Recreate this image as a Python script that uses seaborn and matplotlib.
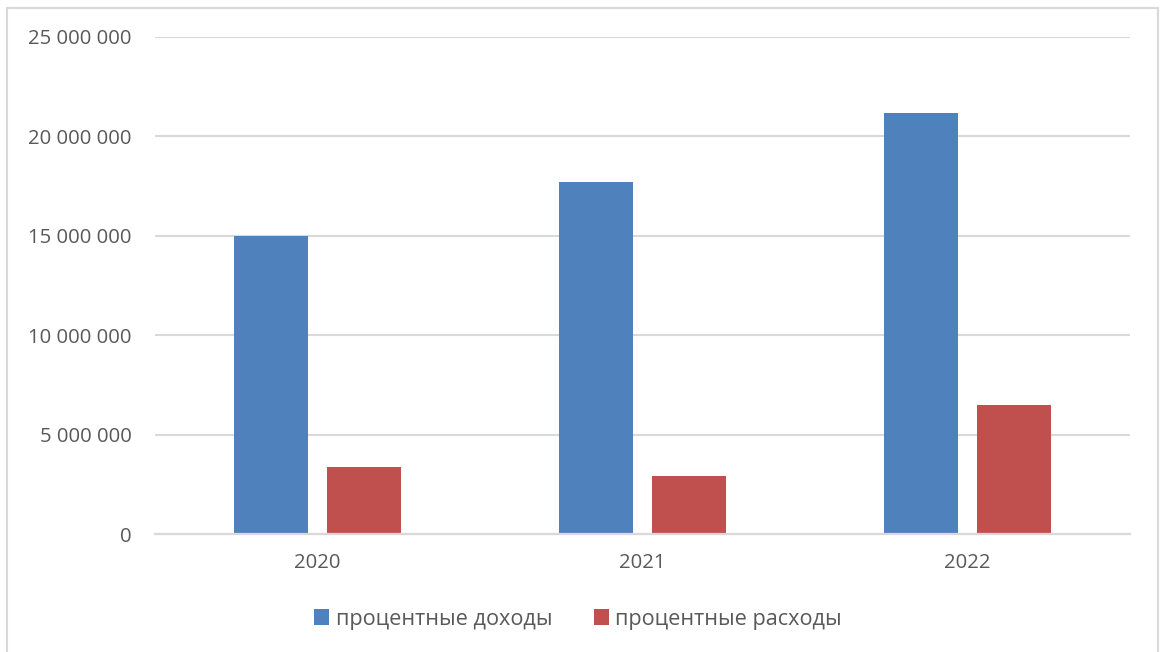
import pandas as pd
import seaborn as sns
import matplotlib.pyplot as plt
from matplotlib.patches import Rectangle

# data
years = ["2020", "2021", "2022"]
income = [15000000, 17700000, 21200000]
expense = [3370000, 2920000, 6480000]
series_names = ["процентные доходы", "процентные расходы"]
colors = ["#4F81BD", "#C0504D"]

df = pd.DataFrame({
    "year": years * 2,
    "value": income + expense,
    "series": [series_names[0]] * 3 + [series_names[1]] * 3,
})

sns.set_theme(style="white")
plt.rcParams["font.family"] = ["Open Sans", "DejaVu Sans"]
text_color = "#595959"
grid_color = "#D9D9D9"

fig = plt.figure(figsize=(11.61, 6.52), dpi=100)
ax = fig.add_axes([155 / 1161, 1 - 534 / 652, 975 / 1161, 497 / 652])

sns.barplot(
    data=df, x="year", y="value", hue="series",
    palette=colors, width=0.572, gap=0.21, ax=ax,
    saturation=1, edgecolor="none",
)

ax.set_xlim(-0.5, 2.5)
ax.set_ylim(0, 25000000)
ax.set_yticks(range(0, 25000001, 5000000))
ax.yaxis.set_major_formatter(plt.FuncFormatter(
    lambda v, loc: "{:,}".format(int(v)).replace(",", " ")))
ax.set_xlabel("")
ax.set_ylabel("")

ax.grid(axis="y", color=grid_color, linewidth=1.5)
ax.set_axisbelow(True)
for side in ["left", "right", "top"]:
    ax.spines[side].set_visible(False)
ax.spines["bottom"].set_color(grid_color)
ax.spines["bottom"].set_linewidth(1.6)

ax.tick_params(axis="y", length=0, pad=17, labelsize=14.6, labelcolor=text_color)
ax.tick_params(axis="x", length=0, pad=14, labelsize=14.6, labelcolor=text_color)

handles, labels = ax.get_legend_handles_labels()
ax.get_legend().remove()
fig.legend(handles, labels, loc="center", bbox_to_anchor=(578 / 1161, 1 - 619 / 652),
           ncol=2, frameon=False, fontsize=15.6, labelcolor=text_color,
           handlelength=0.7, handleheight=0.7, handletextpad=0.3, columnspacing=1.9)

fig.patches.append(Rectangle((7 / 1161, -0.05), 1151 / 1161, 1 - 8 / 652 + 0.05,
                             transform=fig.transFigure, fill=False,
                             edgecolor=grid_color, linewidth=1.5))

fig.savefig("out.png", dpi=100)
